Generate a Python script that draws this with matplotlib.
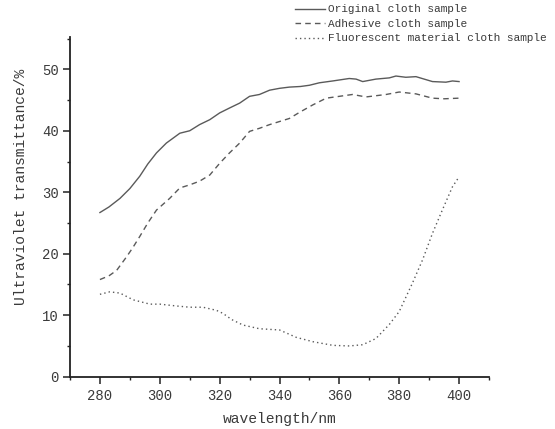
import matplotlib
matplotlib.use("Agg")
import matplotlib.pyplot as plt

# ===== Данные =====
wl_original = [280, 283, 286.7, 290, 293.3, 296, 298.9, 302.2, 306.7, 310, 313.3, 316.7,
               320, 323.3, 326.7, 330, 333.3, 336.7, 340, 343.3, 347, 350, 353.3, 357.8,
               363.3, 365.6, 367.8, 372.2, 376.7, 378.9, 382.2, 385.6, 391.1, 395.6, 397.8, 400]
t_original = [26.7, 27.6, 29.0, 30.6, 32.6, 34.6, 36.4, 38.0, 39.6, 40.0, 41.0, 41.8,
              42.9, 43.7, 44.5, 45.6, 45.9, 46.6, 46.9, 47.1, 47.2, 47.4, 47.8, 48.1,
              48.5, 48.4, 48.0, 48.4, 48.6, 48.9, 48.7, 48.8, 48.0, 47.9, 48.1, 48.0]

wl_adhesive = [280, 283, 285.6, 288.9, 291, 293.3, 296, 298.9, 303.3, 306.7, 310, 313.3,
               316.7, 320, 323.3, 326.7, 330, 333.3, 336.7, 340, 343.3, 346.7, 351.1, 355.6,
               360, 364.4, 368.9, 375.6, 380, 385.6, 391.1, 395, 400]
t_adhesive = [15.8, 16.4, 17.3, 19.5, 21.0, 22.8, 25.0, 27.1, 29.0, 30.7, 31.2, 31.8,
              32.8, 34.7, 36.4, 38.0, 39.9, 40.4, 41.0, 41.5, 42.0, 43.0, 44.2, 45.3,
              45.6, 45.9, 45.5, 45.9, 46.3, 46.0, 45.3, 45.2, 45.3]

wl_fluor = [280, 283.3, 286.7, 291.1, 296.7, 300, 305.6, 310, 314.4, 318.9, 321.1, 324,
            327.8, 333.3, 340, 345.6, 351.1, 357.8, 363.3, 367.8, 372.2, 376.7, 380,
            384.4, 387.8, 391.1, 394.4, 397.8, 400]
t_fluor = [13.4, 13.8, 13.6, 12.5, 11.8, 11.8, 11.5, 11.3, 11.3, 10.8, 10.3, 9.3,
           8.4, 7.8, 7.6, 6.4, 5.7, 5.1, 5.0, 5.2, 6.2, 8.5, 10.6,
           15.2, 19.0, 23.3, 27.1, 30.9, 32.5]

labels = ["Original cloth sample", "Adhesive cloth sample",
          "Fluorescent material cloth sample"]

# ===== Оформление =====
plt.rcParams["font.family"] = ["Liberation Mono", "DejaVu Sans Mono"]
text_color = "#3a3a3a"
line_color = "#5a5a5a"

fig = plt.figure(figsize=(5.55, 4.29), dpi=100)
ax = fig.add_axes([70 / 555, 1 - 376.7 / 429, 419 / 555, 339.4 / 429])

ax.plot(wl_original, t_original, color=line_color, lw=1.0, ls="-", label=labels[0])
ax.plot(wl_adhesive, t_adhesive, color=line_color, lw=1.0, ls=(0, (4, 3)), label=labels[1])
ax.plot(wl_fluor, t_fluor, color=line_color, lw=1.0, ls=(0, (1, 2.2)), label=labels[2])

ax.set_xlim(270, 410)
ax.set_ylim(0, 55.2)
ax.set_xticks(range(280, 401, 20))
ax.set_xticks(range(270, 411, 10), minor=True)
ax.set_yticks(range(0, 51, 10))
ax.set_yticks(range(0, 56, 5), minor=True)

for side in ["top", "right"]:
    ax.spines[side].set_visible(False)
for side in ["left", "bottom"]:
    ax.spines[side].set_linewidth(1.3)
    ax.spines[side].set_color("#222222")

ax.tick_params(which="major", length=5, width=1.1, color="#222222",
               labelsize=10, labelcolor=text_color, pad=3)
ax.tick_params(which="minor", length=2.5, width=1.0, color="#222222")
ax.tick_params(axis="x", which="major", pad=4)

ax.set_xlabel("wavelength/nm", fontsize=10.5, color=text_color)
ax.set_ylabel("Ultraviolet transmittance/%", fontsize=10.5, color=text_color)
ax.xaxis.set_label_coords(0.5, -(419 - 376.7) / 339.4, transform=ax.transAxes)
ax.yaxis.set_label_coords(-(70 - 21) / 419, (376.7 - 187) / 339.4, transform=ax.transAxes)
ax.xaxis.label.set_va("center")
ax.yaxis.label.set_va("center")

ax.legend(loc="upper left", bbox_to_anchor=(295 / 555, 1 - 4.5 / 429),
          bbox_transform=fig.transFigure, frameon=False, fontsize=8,
          borderpad=0, borderaxespad=0, handlelength=2.7, handletextpad=0.3,
          labelspacing=0.4, labelcolor=text_color)

fig.savefig("out.png", dpi=100)
plt.close(fig)
